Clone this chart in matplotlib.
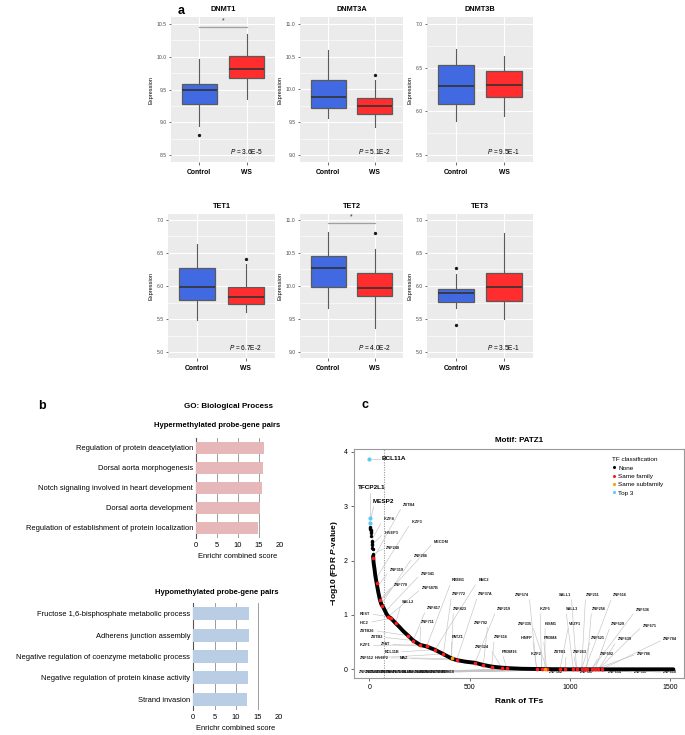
import matplotlib
matplotlib.use('Agg')
import matplotlib.pyplot as plt
import numpy as np
from matplotlib.ticker import MultipleLocator
from matplotlib.lines import Line2D

plt.rcParams['font.family'] = ['Liberation Sans', 'DejaVu Sans']
plt.rcParams['mathtext.fontset'] = 'custom'
plt.rcParams['mathtext.it'] = 'Liberation Sans:italic'
plt.rcParams['mathtext.rm'] = 'Liberation Sans'
plt.rcParams['mathtext.bf'] = 'Liberation Sans:bold'
try:
    plt.rcParams['mathtext.bfit'] = 'Liberation Sans:italic:bold'
except KeyError:
    pass

# ------------------------------------------------------------------ data
genes = ['DNMT1', 'DNMT3A', 'DNMT3B', 'TET1', 'TET2', 'TET3']
groups = ['Control', 'WS']
# [whisker low, q1, median, q3, whisker high]
control_stats = [[8.95, 9.28, 9.49, 9.58, 9.97],
                 [9.57, 9.72, 9.89, 10.15, 10.61],
                 [5.89, 6.08, 6.29, 6.53, 6.71],
                 [5.49, 5.79, 5.99, 6.28, 6.64],
                 [9.66, 9.99, 10.27, 10.46, 10.81],
                 [5.66, 5.76, 5.90, 5.95, 6.18]]
ws_stats = [[9.36, 9.67, 9.81, 10.01, 10.35],
            [9.43, 9.63, 9.75, 9.87, 10.14],
            [5.95, 6.165, 6.30, 6.46, 6.63],
            [5.60, 5.73, 5.84, 5.98, 6.34],
            [9.36, 9.85, 9.97, 10.19, 10.56],
            [5.50, 5.78, 5.98, 6.19, 6.80]]
control_outliers = [[8.80], [], [], [], [], [6.27, 5.41]]
ws_outliers = [[], [10.22], [], [6.41], [10.80], []]
pvalues = ['3.6E-5', '5.1E-2', '9.5E-1', '6.7E-2', '4.0E-2', '3.5E-1']
significant = [True, False, False, False, True, False]
sig_bar_level = [10.46, None, None, None, 10.96, None]
y_ticks = [[8.5, 9.0, 9.5, 10.0, 10.5], [9.0, 9.5, 10.0, 10.5, 11.0],
           [5.5, 6.0, 6.5, 7.0], [5.0, 5.5, 6.0, 6.5, 7.0],
           [9.0, 9.5, 10.0, 10.5, 11.0], [5.0, 5.5, 6.0, 6.5, 7.0]]
y_lims = [(8.393, 10.607), (8.893, 11.107), (5.42, 7.08),
          (4.91, 7.09), (8.91, 11.09), (4.91, 7.09)]

hyper_terms = ['Regulation of protein deacetylation',
               'Dorsal aorta morphogenesis',
               'Notch signaling involved in heart development',
               'Dorsal aorta development',
               'Regulation of establishment of protein localization']
hyper_scores = [16.2, 15.9, 15.7, 15.3, 14.8]
hypo_terms = ['Fructose 1,6-bisphosphate metabolic process',
              'Adherens junction assembly',
              'Negative regulation of coenzyme metabolic process',
              'Negative regulation of protein kinase activity',
              'Strand invasion']
hypo_scores = [13.1, 13.1, 12.9, 12.9, 12.6]

# TF rank curve
top_rank = [4, 5, 6, 7, 8, 9, 10, 11, 12, 13, 14, 15, 16, 17, 18, 19]
top_val = [2.62, 2.60, 2.58, 2.57, 2.55, 2.53, 2.50, 2.45, 2.37, 2.35,
           2.30, 2.28, 2.23, 2.21, 2.12, 2.08]
curve_rank = [19, 22, 26, 30, 37, 45, 53, 60, 70, 86, 95, 108, 131, 150, 170,
              194, 219, 253, 286, 327, 369, 410, 435, 480, 527, 568, 610, 660,
              700, 760, 850, 1000, 1200, 1400, 1515]
curve_val = [2.08, 1.95, 1.85, 1.73, 1.58, 1.42, 1.28, 1.20, 1.14, 1.02, 0.97,
             0.94, 0.85, 0.78, 0.70, 0.62, 0.53, 0.45, 0.42, 0.36, 0.28, 0.20,
             0.17, 0.14, 0.12, 0.08, 0.05, 0.03, 0.02, 0.01, 0.005, 0.0, 0.0,
             0.0, 0.0]
red_rank = [20, 37, 53, 65, 95, 108, 131, 194, 219, 253, 286, 327, 369, 435,
            527, 568, 610, 660, 685, 834, 859, 884, 950, 975, 1017, 1033, 1058,
            1075, 1083, 1108, 1125, 1141, 1158]
red_val = [2.05, 1.58, 1.28, 1.17, 0.97, 0.94, 0.85, 0.62, 0.53, 0.45, 0.42,
           0.36, 0.28, 0.17, 0.12, 0.08, 0.05, 0.03, 0.03, 0, 0, 0, 0, 0, 0, 0,
           0, 0, 0, 0, 0, 0, 0]
orange_rank = [410, 875]
orange_val = [0.20, 0.0]
top3_names = ['BCL11A', 'TFCP2L1', 'MESP2']
top3_rank = [1, 2, 3]
top3_val = [3.88, 2.78, 2.70]

# small gene labels: name, target rank
small_names = ['IKZF4', 'ZBTB4', 'IKZF3', 'HIVEP3', 'MECOM', 'ZNF248', 'ZNF286',
               'ZNF319', 'ZNF341', 'RREB1', 'BNC2', 'ZNF770', 'ZNF587B', 'ZNF772',
               'ZNF37A', 'ZNF574', 'SALL1', 'ZNF211', 'ZNF516', 'SALL2', 'ZNF417',
               'ZNF423', 'ZNF219', 'IKZF5', 'SALL3', 'ZNF256', 'ZNF536', 'REST',
               'HIC2', 'ZNF711', 'ZNF792', 'ZNF335', 'INSM1', 'VEZF1', 'ZNF529',
               'ZNF671', 'ZBTB26', 'ZBTB2', 'PATZ1', 'ZNF616', 'HINFP', 'PRDM4',
               'ZNF521', 'ZNF639', 'ZNF784', 'IKZF1', 'ZFAT', 'ZNF324', 'BCL11B',
               'PRDM16', 'IKZF2', 'ZBTB1', 'ZNF263', 'ZNF592', 'ZNF786', 'ZNF512',
               'HIVEP2', 'MAZ', 'ZNF582', 'ZNF587', 'ZNF654', 'ZNF687', 'ZNF618']
small_target = [12, 20, 33, 14, 55, 18, 60, 40, 80, 286, 327, 53, 95, 369,
                435, 834, 1033, 1058, 1075, 131, 219, 410, 527, 859, 1017, 1083,
                1108, 95, 108, 253, 568, 884, 875, 950, 1125, 1141, 194, 219,
                410, 610, 834, 884, 1058, 1141, 1158, 253, 286, 660, 327, 685,
                859, 975, 1033, 1108, 1125, 369, 410, 435, 975, 1075, 1108, 1141,
                1158]
bottom_names = ['ZNF281', 'ZNF148', 'ZNF740', 'ZBTB7A', 'ZNF384', 'ZNF76',
                'ZNF143', 'ZBTB14', 'KLF16', 'ZNF354C', 'ZNF460', 'ZNF449',
                'ZNF24', 'ZNF350', 'ZNF410', 'ZNF418']
bottom_target = [700, 720, 760, 790, 810, 840, 870, 900, 930, 960, 990, 1020,
                 1050, 1080, 1100, 1120]

# ------------------------------------------------------------------ layout
W, H = 685, 735
fig = plt.figure(figsize=(6.85, 7.35), dpi=100)


def rect(l, t, r, b):
    return [l / W, 1 - b / H, (r - l) / W, (b - t) / H]


# label positions (data coordinates of panel c), same order as small_names
small_pos = [(70, 2.77), (169, 3.03), (211, 2.72), (75, 2.51), (322, 2.34),
             (83, 2.24), (221, 2.09), (103, 1.82), (256, 1.75), (411, 1.64),
             (543, 1.64), (123, 1.56), (261, 1.49), (411, 1.38), (543, 1.38),
             (726, 1.37), (945, 1.37), (1078, 1.37), (1213, 1.36), (161, 1.23),
             (286, 1.13), (419, 1.11), (635, 1.11), (851, 1.11), (979, 1.11),
             (1108, 1.11), (1329, 1.09), (-46, 1.02), (-46, 0.86), (256, 0.87),
             (522, 0.86), (740, 0.84), (876, 0.84), (995, 0.84), (1204, 0.83),
             (1362, 0.80), (-46, 0.71), (7, 0.59), (411, 0.59), (623, 0.59),
             (754, 0.58), (867, 0.58), (1105, 0.57), (1238, 0.55), (1465, 0.55),
             (-46, 0.44), (58, 0.46), (527, 0.41), (75, 0.32), (660, 0.32),
             (806, 0.29), (920, 0.31), (1015, 0.32), (1150, 0.28), (1332, 0.28),
             (-46, 0.21), (28, 0.21), (153, 0.20), (895, -0.055), (1050, -0.055),
             (1188, -0.055), (1319, -0.055), (1465, -0.055)]

# ------------------------------------------------------------------ panel a
box_rects = [(171, 17, 275, 162), (300, 17, 403, 162), (427, 17, 533, 162),
             (168, 214, 275, 358), (300, 214, 403, 358), (427, 214, 533, 358)]
box_colors = ['#4169E1', '#FF2D2D']
fig.text(178 / W, 1 - 11 / H, 'a', fontsize=9, fontweight='bold', va='center')

for i, g in enumerate(genes):
    ax = fig.add_axes(rect(*box_rects[i]))
    ax.set_facecolor('#EBEBEB')
    stats = []
    for s, fl in ((control_stats[i], control_outliers[i]), (ws_stats[i], ws_outliers[i])):
        stats.append(dict(whislo=s[0], q1=s[1], med=s[2], q3=s[3], whishi=s[4], fliers=fl))
    bp = ax.bxp(stats, positions=[1, 2], widths=0.75, patch_artist=True,
                showcaps=False,
                boxprops=dict(linewidth=0.9, edgecolor='#5a5a5a'),
                medianprops=dict(color='#333333', linewidth=1.2),
                whiskerprops=dict(color='#5a5a5a', linewidth=0.8),
                flierprops=dict(marker='o', markerfacecolor='#1a1a1a',
                                markeredgecolor='none', markersize=2.4))
    for patch, c in zip(bp['boxes'], box_colors):
        patch.set_facecolor(c)
    ax.set_xlim(0.4, 2.6)
    ax.set_ylim(*y_lims[i])
    ax.set_yticks(y_ticks[i])
    ax.set_yticklabels(['%.1f' % t for t in y_ticks[i]])
    ax.yaxis.set_minor_locator(MultipleLocator(0.25))
    ax.grid(which='major', color='white', linewidth=0.8)
    ax.grid(which='minor', axis='y', color='white', linewidth=0.4)
    ax.set_axisbelow(True)
    for sp in ax.spines.values():
        sp.set_visible(False)
    ax.tick_params(axis='both', which='major', length=1.8, width=0.5,
                   color='#333333', labelsize=3.7, labelcolor='#4d4d4d', pad=1.5)
    ax.tick_params(axis='y', which='minor', length=0)
    ax.set_xticks([1, 2])
    ax.set_xticklabels(groups, fontweight='bold', fontsize=4.9, color='black')
    ax.tick_params(axis='x', pad=3)
    ax.set_ylabel('Expression', fontsize=4.1, labelpad=2)
    ax.set_title(g, fontweight='bold', fontsize=5.3, pad=4)
    ax.text(0.72, 0.075, r'$\it{P}$ = ' + pvalues[i], transform=ax.transAxes,
            ha='center', va='center', fontsize=4.7)
    if significant[i]:
        lv = sig_bar_level[i]
        ax.plot([1, 2], [lv, lv], color='#A0A0A0', linewidth=0.9)
        ax.text(1.5, lv + 0.015 * (y_lims[i][1] - y_lims[i][0]), '*',
                ha='center', va='bottom', fontsize=5, color='#333333')

# ------------------------------------------------------------------ panel b
fig.text(38 / W, 1 - 406 / H, 'b', fontsize=9, fontweight='bold', va='center')
fig.text(228 / W, 1 - 406 / H, 'GO: Biological Process', fontsize=5.8,
         fontweight='bold', ha='center', va='center')


def bar_panel(box, title, terms, scores, color, title_y):
    ax = fig.add_axes(rect(*box))
    y = np.arange(len(terms))
    ax.barh(y, scores, height=0.6, color=color, zorder=3)
    ax.set_ylim(len(terms) - 0.5, -0.5)
    ax.set_xlim(0, 20)
    ax.set_xticks([0, 5, 10, 15, 20])
    ax.set_yticks(y)
    ax.set_yticklabels(terms, fontsize=5.4)
    ax.grid(axis='x', color='#8c8c8c', linewidth=0.6, zorder=0)
    for k in ('top', 'right', 'bottom'):
        ax.spines[k].set_visible(False)
    ax.spines['left'].set_color('#555555')
    ax.spines['left'].set_linewidth(0.8)
    ax.tick_params(axis='y', length=0, pad=2)
    ax.tick_params(axis='x', length=0, labelsize=5.4, pad=3)
    ax.set_xlabel('Enrichr combined score', fontsize=5.4, labelpad=3)
    fig.text(box[2] / W, 1 - title_y / H, title, fontsize=5.5,
             fontweight='bold', ha='right', va='center')
    return ax


bar_panel((196, 438, 280, 538), 'Hypermethylated probe-gene pairs',
          hyper_terms, hyper_scores, '#E6B8B9', 426)
bar_panel((193, 603, 279, 710), 'Hypomethylated probe-gene pairs',
          hypo_terms, hypo_scores, '#B9CDE5', 592)

# ------------------------------------------------------------------ panel c
fig.text(362 / W, 1 - 405 / H, 'c', fontsize=9, fontweight='bold', va='center')
axc = fig.add_axes(rect(354, 449, 684, 678))
axc.set_xlim(-76, 1568)
axc.set_ylim(-0.16, 4.055)
axc.set_title('Motif: PATZ1', fontsize=5.8, fontweight='bold', pad=5)
for sp in axc.spines.values():
    sp.set_color('#9a9a9a')
    sp.set_linewidth(0.8)
axc.set_xticks([0, 500, 1000, 1500])
axc.set_yticks([0, 1, 2, 3, 4])
axc.tick_params(length=2.5, width=0.6, color='#555555', labelsize=5, pad=2)
axc.set_xlabel('Rank of TFs', fontsize=6, fontweight='bold', labelpad=5)
try:
    ylab = r'$\mathbf{-log10\ (FDR\ }\mathbfit{P}\mathbf{\text{-}value)}$'
    axc.set_ylabel(ylab, fontsize=6, labelpad=3)
    fig.canvas.draw()
except Exception:
    axc.set_ylabel('\u2212log10 (FDR P-value)', fontsize=6, fontweight='bold', labelpad=3)
axc.axvline(75, color='#9a9a9a', linestyle=(0, (1, 1.2)), linewidth=0.8, zorder=1)

# leader lines + small labels
for name, (lx, ly), tr in zip(small_names, small_pos, small_target):
    tv = np.interp(tr, curve_rank, curve_val) if tr >= 19 else np.interp(tr, top_rank, top_val)
    if tr < 12:
        tv = 2.62
    rel = (0, 0.5) if tr < lx + 40 else (1, 0.5)
    axc.annotate(name, xy=(tr, tv), xytext=(lx, ly), textcoords='data',
                 ha='left', va='center', fontsize=2.8, fontweight='bold',
                 color='#1a1a1a', zorder=2,
                 arrowprops=dict(arrowstyle='-', color='#C4C4C4', lw=0.45,
                                 shrinkA=0, shrinkB=0, relpos=rel))
for k, (name, tr) in enumerate(zip(bottom_names, bottom_target)):
    lx = -50 + 27 * k
    axc.annotate(name, xy=(tr, 0.0), xytext=(lx, -0.05), textcoords='data',
                 ha='left', va='center', fontsize=2.8, fontweight='bold',
                 color='#1a1a1a', zorder=2,
                 arrowprops=dict(arrowstyle='-', color='#C4C4C4', lw=0.45,
                                 shrinkA=0, shrinkB=0, relpos=(1, 0.5)))

# curve
axc.plot(curve_rank, curve_val, color='black', linewidth=2.8,
         solid_capstyle='round', zorder=4)
axc.scatter(top_rank, top_val, s=6, color='black', zorder=4, linewidths=0)
axc.scatter(red_rank, red_val, s=7, color='#FF1A1A', zorder=5, linewidths=0)
axc.scatter(orange_rank, orange_val, s=7, color='#FF9900', zorder=5, linewidths=0)
axc.scatter(top3_rank, top3_val, s=9, color='#5BC8F5', zorder=6, linewidths=0)

# top-3 labels
axc.plot([12, 55], [3.88, 3.88], color='#C4C4C4', lw=0.5, zorder=2)
axc.text(62, 3.88, top3_names[0], fontsize=4.6, fontweight='bold', va='center', ha='left')
axc.plot([2, 2], [2.80, 3.24], color='#C4C4C4', lw=0.5, zorder=2)
axc.text(12, 3.34, top3_names[1], fontsize=4.6, fontweight='bold', va='center', ha='center')
axc.plot([4, 22], [2.72, 2.99], color='#C4C4C4', lw=0.5, zorder=2)
axc.text(68, 3.09, top3_names[2], fontsize=4.6, fontweight='bold', va='center', ha='center')

# legend
legend_labels = ['None', 'Same family', 'Same subfamily', 'Top 3']
legend_colors = ['black', '#FF1A1A', '#FF9900', '#5BC8F5']
handles = [Line2D([], [], marker='o', linestyle='none', markersize=2.2,
                  markerfacecolor=c, markeredgecolor='none') for c in legend_colors]
leg = axc.legend(handles, legend_labels, title='TF classification',
                 loc='upper left', bbox_to_anchor=(0.775, 0.975), frameon=False,
                 fontsize=4.6, title_fontsize=4.6, handlelength=0.6,
                 handletextpad=0.3, labelspacing=0.45, borderaxespad=0)
leg._legend_box.align = 'left'

fig.savefig('out.png', dpi=100, facecolor='white')
